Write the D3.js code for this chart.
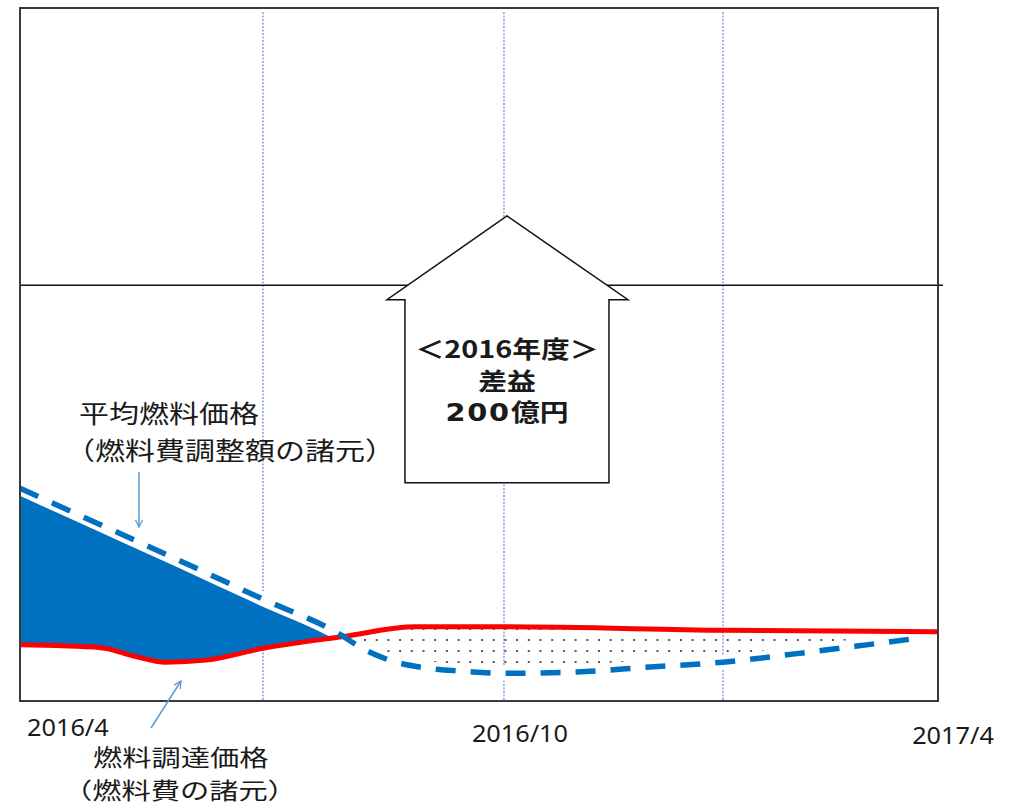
<!DOCTYPE html>
<html>
<head>
<meta charset="utf-8">
<script src="https://cdn.jsdelivr.net/npm/d3@7.9.0/dist/d3.min.js"></script>
<style>
  body { margin: 0; background: #fff; }
  svg { display: block; }
</style>
</head>
<body>
<svg id="chart" width="1018" height="809"></svg>
<script>
// months counted from 2016/4
const avgMonths  = [0, 1, 2, 3, 3.9, 4.3, 4.6, 5, 5.5, 6, 7, 8, 9, 10, 11, 11.75];
const avgValues  = [30.7, 25.4, 20.1, 14.7, 10.0, 7.2, 5.8, 4.8, 4.3, 4.0, 4.2, 4.9, 5.6, 6.8, 8.1, 9.1];
const procMonths = [0, 1, 1.4, 1.8, 2.3, 3, 4, 4.9, 6, 9, 12];
const procValues = [8.1, 7.7, 6.5, 5.6, 5.9, 7.6, 9.3, 10.7, 10.7, 10.2, 10.0];
const gridMonths = [3, 6, 9];
const tickMonths = [0, 6, 12];
const tickLabels = ['2016/4', '2016/10', '2017/4'];
const refValue = 60;
const avgLabel  = ['平均燃料価格', '（燃料費調整額の諸元）'];
const procLabel = ['燃料調達価格', '（燃料費の諸元）'];
const boxLines  = ['＜2016年度＞', '差益', '200億円'];

const svg = d3.select('#chart');
const pLeft = 20, pRight = 938, pTop = 8, pBottom = 701;
const W = pRight - pLeft;

// quarters are not drawn evenly in the original
const x = d3.scaleLinear()
  .domain([0, 3, 6, 9, 12])
  .range([0, 0.2647, 0.5272, 0.7658, 1].map(f => pLeft + f * W));
const y = d3.scaleLinear().domain([0, 100]).range([pBottom, pTop]);

const avg  = avgMonths.map((m, i) => ({ m, v: avgValues[i] }));
const proc = procMonths.map((m, i) => ({ m, v: procValues[i] }));

const curve = d3.curveMonotoneX;
const line = d3.line().x(d => x(d.m)).y(d => y(d.v)).curve(curve);
const below = d3.area().x(d => x(d.m)).y0(pBottom).y1(d => y(d.v)).curve(curve);
const above = d3.area().x(d => x(d.m)).y0(pTop).y1(d => y(d.v)).curve(curve);

const defs = svg.append('defs');
defs.append('clipPath').attr('id', 'aboveProc').append('path').attr('d', above(proc));
defs.append('clipPath').attr('id', 'aboveAvg').append('path').attr('d', above(avg));

const pat = defs.append('pattern')
  .attr('id', 'dots')
  .attr('patternUnits', 'userSpaceOnUse')
  .attr('x', 364).attr('y', 639)
  .attr('width', 11.7).attr('height', 11);
pat.append('rect').attr('width', 2).attr('height', 2).attr('fill', '#555');

const mk = defs.append('marker')
  .attr('id', 'head')
  .attr('viewBox', '0 0 10 10')
  .attr('refX', 9).attr('refY', 5)
  .attr('markerWidth', 9).attr('markerHeight', 9)
  .attr('markerUnits', 'userSpaceOnUse')
  .attr('orient', 'auto');
mk.append('path').attr('d', 'M1,1 L9,5 L1,9')
  .attr('fill', 'none').attr('stroke', '#5b9bd5').attr('stroke-width', 1.4);

// vertical dotted grid
svg.selectAll('.grid')
  .data(gridMonths)
  .join('line')
  .attr('x1', d => x(d)).attr('x2', d => x(d))
  .attr('y1', pTop + 4).attr('y2', pBottom)
  .attr('stroke', '#4472c4')
  .attr('stroke-width', 1)
  .attr('stroke-dasharray', '2,1.5');

// reference line
svg.append('line')
  .attr('x1', x(0)).attr('x2', x(12) + 5)
  .attr('y1', y(refValue)).attr('y2', y(refValue))
  .attr('stroke', '#111').attr('stroke-width', 1.5);

// gain area (avg above procurement)
svg.append('path')
  .attr('d', below(avg))
  .attr('clip-path', 'url(#aboveProc)')
  .attr('fill', '#0070c0');

// dotted area (procurement above avg)
svg.append('path')
  .attr('d', below(proc))
  .attr('clip-path', 'url(#aboveAvg)')
  .attr('fill', 'url(#dots)');

// white halo under the dashed line
svg.append('path')
  .attr('d', line(avg))
  .attr('fill', 'none')
  .attr('stroke', '#fff')
  .attr('stroke-width', 14);

svg.append('path')
  .attr('d', line(proc))
  .attr('fill', 'none')
  .attr('stroke', '#ff0000')
  .attr('stroke-width', 5);

svg.append('path')
  .attr('d', line(avg))
  .attr('fill', 'none')
  .attr('stroke', '#0070c0')
  .attr('stroke-width', 5.5)
  .attr('stroke-dasharray', '20,15');

// frame
svg.append('rect')
  .attr('x', pLeft).attr('y', pTop)
  .attr('width', W).attr('height', pBottom - pTop)
  .attr('fill', 'none')
  .attr('stroke', '#3a3a3a').attr('stroke-width', 2);

// big up arrow
const cx = x(6) + 3;
const tipY = y(70), barbY = y(57.9), baseY = y(31.5);
svg.append('path')
  .attr('d', `M${cx},${tipY} L${cx + 121},${barbY} L${cx + 102},${barbY} L${cx + 102},${baseY}
              L${cx - 102},${baseY} L${cx - 102},${barbY} L${cx - 120},${barbY} Z`)
  .attr('fill', '#fff')
  .attr('stroke', '#111')
  .attr('stroke-width', 1.5);

const cjk = '"Noto Sans CJK JP", sans-serif';

function label(tx, ty, str, size, sx, anchor, weight) {
  return svg.append('text')
    .attr('transform', `translate(${tx},${ty}) scale(${sx},1)`)
    .attr('text-anchor', anchor || 'start')
    .attr('font-family', cjk)
    .attr('font-size', size)
    .attr('font-weight', weight || 'normal')
    .attr('fill', '#1a1a1a')
    .text(str);
}

// arrow text
[358, 390, 421].forEach((by, i) => {
  const t = label(cx, by, '', 24, 1.2, 'middle', 'bold');
  if (i === 2) {
    t.append('tspan')
      .attr('font-family', '"DejaVu Sans", sans-serif')
      .attr('letter-spacing', 1.5)
      .text('200');
    t.append('tspan').text('億円');
  } else {
    t.text(boxLines[i]);
  }
});

// series labels
label(79, 423, avgLabel[0], 25, 1.2);
label(65, 460, avgLabel[1], 25, 1.2);
label(93, 766, procLabel[0], 22.5, 1.3);
label(63, 799, procLabel[1], 22.5, 1.3);

// pointer arrows
svg.append('line')
  .attr('x1', 139).attr('y1', 472).attr('x2', 139).attr('y2', 527)
  .attr('stroke', '#5b9bd5').attr('stroke-width', 1.5)
  .attr('marker-end', 'url(#head)');
svg.append('line')
  .attr('x1', 151).attr('y1', 728).attr('x2', 181).attr('y2', 681)
  .attr('stroke', '#5b9bd5').attr('stroke-width', 1.5)
  .attr('marker-end', 'url(#head)');

// x labels
const tickPos = [
  { dx: 7, by: 736, anchor: 'start' },
  { dx: 16, by: 742, anchor: 'middle' },
  { dx: 15, by: 744, anchor: 'middle' }
];
tickMonths.forEach((m, i) => {
  svg.append('text')
    .attr('transform', `translate(${x(m) + tickPos[i].dx},${tickPos[i].by}) scale(1.1,1)`)
    .attr('text-anchor', tickPos[i].anchor)
    .attr('font-family', '"Noto Sans", sans-serif')
    .attr('font-size', 23)
    .attr('fill', '#1a1a1a')
    .text(tickLabels[i]);
});
</script>
</body>
</html>
